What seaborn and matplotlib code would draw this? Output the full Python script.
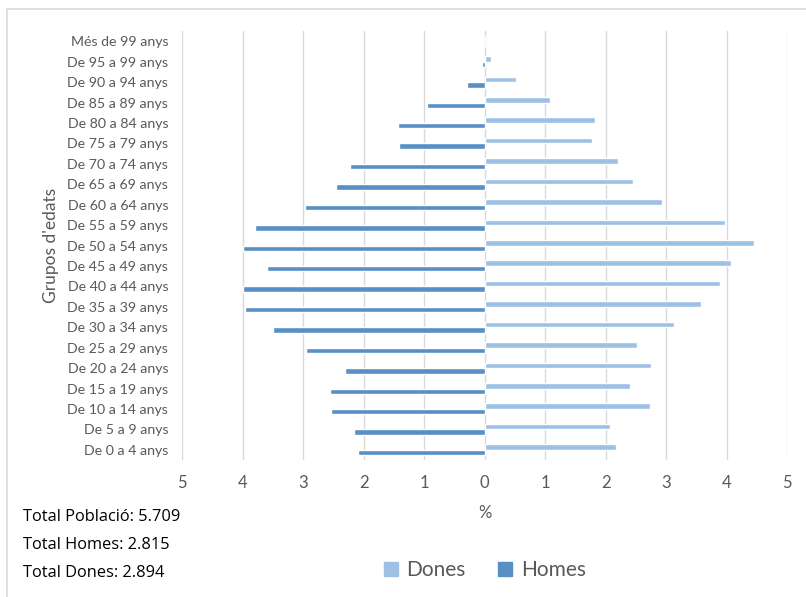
import matplotlib
matplotlib.use("Agg")
import matplotlib.pyplot as plt
import seaborn as sns
import pandas as pd
from matplotlib.lines import Line2D
from matplotlib.patches import Rectangle

# ---- data ----
grups = ["Més de 99 anys", "De 95 a 99 anys", "De 90 a 94 anys", "De 85 a 89 anys",
         "De 80 a 84 anys", "De 75 a 79 anys", "De 70 a 74 anys", "De 65 a 69 anys",
         "De 60 a 64 anys", "De 55 a 59 anys", "De 50 a 54 anys", "De 45 a 49 anys",
         "De 40 a 44 anys", "De 35 a 39 anys", "De 30 a 34 anys", "De 25 a 29 anys",
         "De 20 a 24 anys", "De 15 a 19 anys", "De 10 a 14 anys", "De 5 a 9 anys",
         "De 0 a 4 anys"]
dones = [0.00, 0.11, 0.52, 1.08, 1.82, 1.78, 2.21, 2.46, 2.93, 3.97, 4.45, 4.07,
         3.89, 3.58, 3.14, 2.52, 2.75, 2.41, 2.73, 2.07, 2.17]
homes = [0.00, 0.04, 0.29, 0.95, 1.43, 1.42, 2.23, 2.46, 2.96, 3.79, 4.00, 3.59,
         4.00, 3.96, 3.49, 2.95, 2.30, 2.56, 2.53, 2.15, 2.09]
xticks = [-5, -4, -3, -2, -1, 0, 1, 2, 3, 4, 5]
totals = ["Total Població: 5.709", "Total Homes: 2.815", "Total Dones: 2.894"]

C_DONES = "#9DC0E5"
C_HOMES = "#5890C5"
GRID = "#D9D9D9"
TXT = "#595959"

df = pd.DataFrame({
    "grup": grups * 2,
    "valor": dones + [-h for h in homes],
    "sexe": ["Dones"] * len(grups) + ["Homes"] * len(grups),
})

sns.set_theme(style="white")
plt.rcParams["font.family"] = ["Lato", "DejaVu Sans"]

fig = plt.figure(figsize=(8.06, 5.97), dpi=100)
ax = fig.add_axes([182 / 806, 1 - 460 / 597, (787 - 182) / 806, (460 - 31) / 597])

sns.barplot(data=df, y="grup", x="valor", hue="sexe", order=grups,
            hue_order=["Dones", "Homes"], palette={"Dones": C_DONES, "Homes": C_HOMES},
            orient="h", dodge=True, width=0.54, errorbar=None, ax=ax, legend=False,
            saturation=1)

ax.set_xlim(-5, 5)
ax.set_xticks(xticks)
ax.set_xticklabels([str(abs(t)) for t in xticks])
ax.grid(axis="x", color=GRID, linewidth=1)
ax.grid(axis="y", visible=False)
ax.set_axisbelow(True)
for s in ax.spines.values():
    s.set_visible(False)
ax.tick_params(axis="x", length=0, pad=11, labelsize=12, labelcolor=TXT)
ax.tick_params(axis="y", length=0, pad=10, labelsize=10.2, labelcolor=TXT)
ax.set_xlabel("%", fontsize=12, color=TXT, labelpad=10)
ax.set_ylabel("Grupos d'edats", fontsize=12.5, color=TXT, labelpad=6)

# chart-area border
fig.patches.append(Rectangle((7 / 806, -0.05), 1.2, 1 - 9 / 597 + 0.05,
                             transform=fig.transFigure, fill=False,
                             edgecolor=GRID, linewidth=1.2))

for i, t in enumerate(totals):
    fig.text(23 / 806, 1 - (517 + i * 28) / 597, t, fontsize=11.8, color="black",
             ha="left", va="center", family=["Open Sans", "DejaVu Sans"])

handles = [Line2D([], [], marker="s", linestyle="", markersize=9.5,
                  markerfacecolor=C_DONES, markeredgecolor=C_DONES, label="Dones"),
           Line2D([], [], marker="s", linestyle="", markersize=9.5,
                  markerfacecolor=C_HOMES, markeredgecolor=C_HOMES, label="Homes")]
fig.legend(handles=handles, loc="center", bbox_to_anchor=(484 / 806, 1 - 570 / 597),
           ncol=2, frameon=False, fontsize=15, labelcolor=TXT, handlelength=0.8,
           handletextpad=0.35, columnspacing=1.5)

fig.savefig("out.png", dpi=100)
